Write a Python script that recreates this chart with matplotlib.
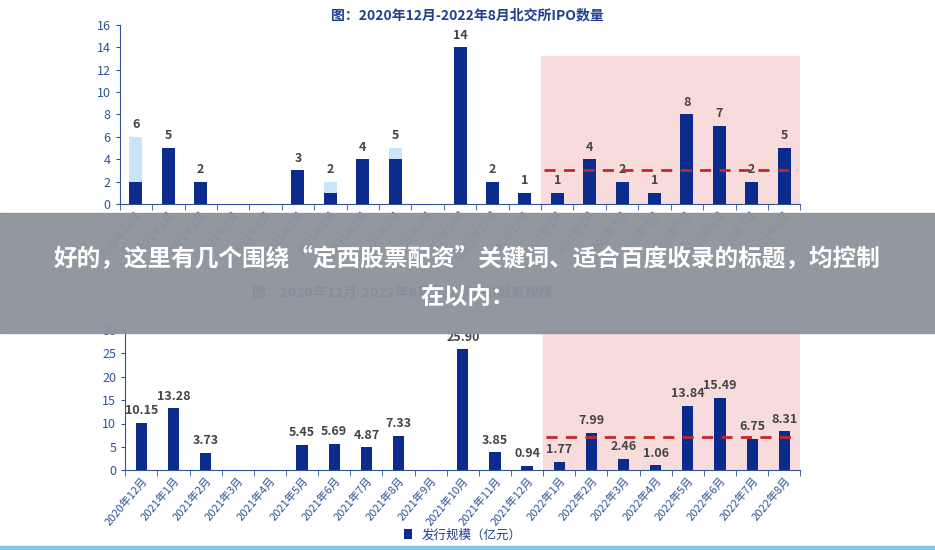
import matplotlib
matplotlib.use("Agg")
import matplotlib.pyplot as plt
from matplotlib.patches import Rectangle
import numpy as np

plt.rcParams['font.family'] = ['Noto Sans CJK SC', 'DejaVu Sans']

months = ["2020年12月","2021年1月","2021年2月","2021年3月","2021年4月","2021年5月","2021年6月",
          "2021年7月","2021年8月","2021年9月","2021年10月","2021年11月","2021年12月","2022年1月",
          "2022年2月","2022年3月","2022年4月","2022年5月","2022年6月","2022年7月","2022年8月"]
ipo_dark = [2,5,2,0,0,3,1,4,4,0,14,2,1,1,4,2,1,8,7,2,5]
ipo_total = [6,5,2,0,0,3,2,4,5,0,14,2,1,1,4,2,1,8,7,2,5]
raise_amt = [10.15,13.28,3.73,0,0,5.45,5.69,4.87,7.33,0,25.90,3.85,0.94,1.77,7.99,2.46,1.06,13.84,15.49,6.75,8.31]
avg_ipo_2022 = 3.0
avg_amt_2022 = 7.2

navy = "#0b2c8c"
light = "#c8e6f8"
axc = "#2f5597"
pink = "#f8dcdc"

fig = plt.figure(figsize=(9.35, 5.5), dpi=100)
x = np.arange(len(months))

def style(ax):
    for s in ["top", "right"]:
        ax.spines[s].set_visible(False)
    for s in ["left", "bottom"]:
        ax.spines[s].set_color(axc)
    ax.tick_params(colors=axc, labelsize=9, length=3)
    ax.set_xlim(-0.5, len(months) - 0.5)
    ax.set_xticks(x)
    ax.set_xticks(np.arange(-0.5, len(months)), minor=True)
    ax.tick_params(axis='x', which='major', length=0)
    ax.tick_params(axis='x', which='minor', length=4, color=axc)
    ax.set_xticklabels(months, rotation=50, ha='right', fontsize=8, color=axc, rotation_mode='anchor')

# Top chart
ax1 = fig.add_axes([0.128, 0.629, 0.728, 0.326])
style(ax1)
ax1.set_ylim(0, 16)
ax1.set_yticks(range(0, 17, 2))
ax1.axvspan(12.5, 20.5, ymax=13.2/16, color=pink, zorder=0)
ax1.bar(x, ipo_total, width=0.4, color=light, zorder=2)
ax1.bar(x, ipo_dark, width=0.4, color=navy, zorder=3)
for i, v in enumerate(ipo_total):
    if v > 0:
        ax1.text(i, v + 0.5, str(v), ha='center', va='bottom', fontsize=9, fontweight='bold', color='#444444')
ax1.hlines(avg_ipo_2022, 12.6, 20.4, colors='#c0282d', linestyles=(0, (4, 3)), lw=2, zorder=4)
fig.text(0.5, 0.972, "图：2020年12月-2022年8月北交所IPO数量", ha='center', va='center',
         fontsize=10, fontweight='bold', color='#1f3f8f')

# Bottom chart
ax2 = fig.add_axes([0.134, 0.145, 0.722, 0.255])
style(ax2)
ax2.set_ylim(0, 30)
ax2.set_yticks(range(0, 31, 5))
ax2.axvspan(12.5, 20.5, ymax=1.0, color=pink, zorder=0)
ax2.bar(x, raise_amt, width=0.35, color=navy, zorder=3, label="发行规模（亿元）")
for i, v in enumerate(raise_amt):
    if v > 0:
        ax2.text(i, v + 1.2, f"{v:.2f}", ha='center', va='bottom', fontsize=9, fontweight='bold', color='#444444')
ax2.hlines(avg_amt_2022, 12.6, 20.4, colors='#c0282d', linestyles=(0, (4, 3)), lw=2, zorder=4)
ax2.legend(loc='center', bbox_to_anchor=(0.5, -0.46), frameon=False, fontsize=9,
           handlelength=0.6, handleheight=0.8, labelcolor='#1f3f8f', borderpad=0.1)
fig.text(0.43, 0.468, "图：2020年12月-2022年8月北交所IPO融资规模", ha='center', va='center',
         fontsize=10, fontweight='bold', color='#1f3f8f')

# bottom line
fig.add_artist(Rectangle((0, 0.002), 1, 0.006, transform=fig.transFigure, color='#7ec8e8', zorder=5))

# gray banner overlay
fig.add_artist(Rectangle((0, 1 - 333/550), 1, 120/550, transform=fig.transFigure,
                         color='#8c939b', alpha=0.95, zorder=10))
t1 = fig.text(0.5, 1 - 258/550, "好的，这里有几个围绕“定西股票配资”关键词、适合百度收录的标题，均控制",
              ha='center', va='center', fontsize=17, fontweight='bold', color='white')
t2 = fig.text(0.5, 1 - 297/550, "在以内：", ha='center', va='center', fontsize=17,
              fontweight='bold', color='white')
t1.set_zorder(11); t2.set_zorder(11)

fig.savefig("out.png", dpi=100)
